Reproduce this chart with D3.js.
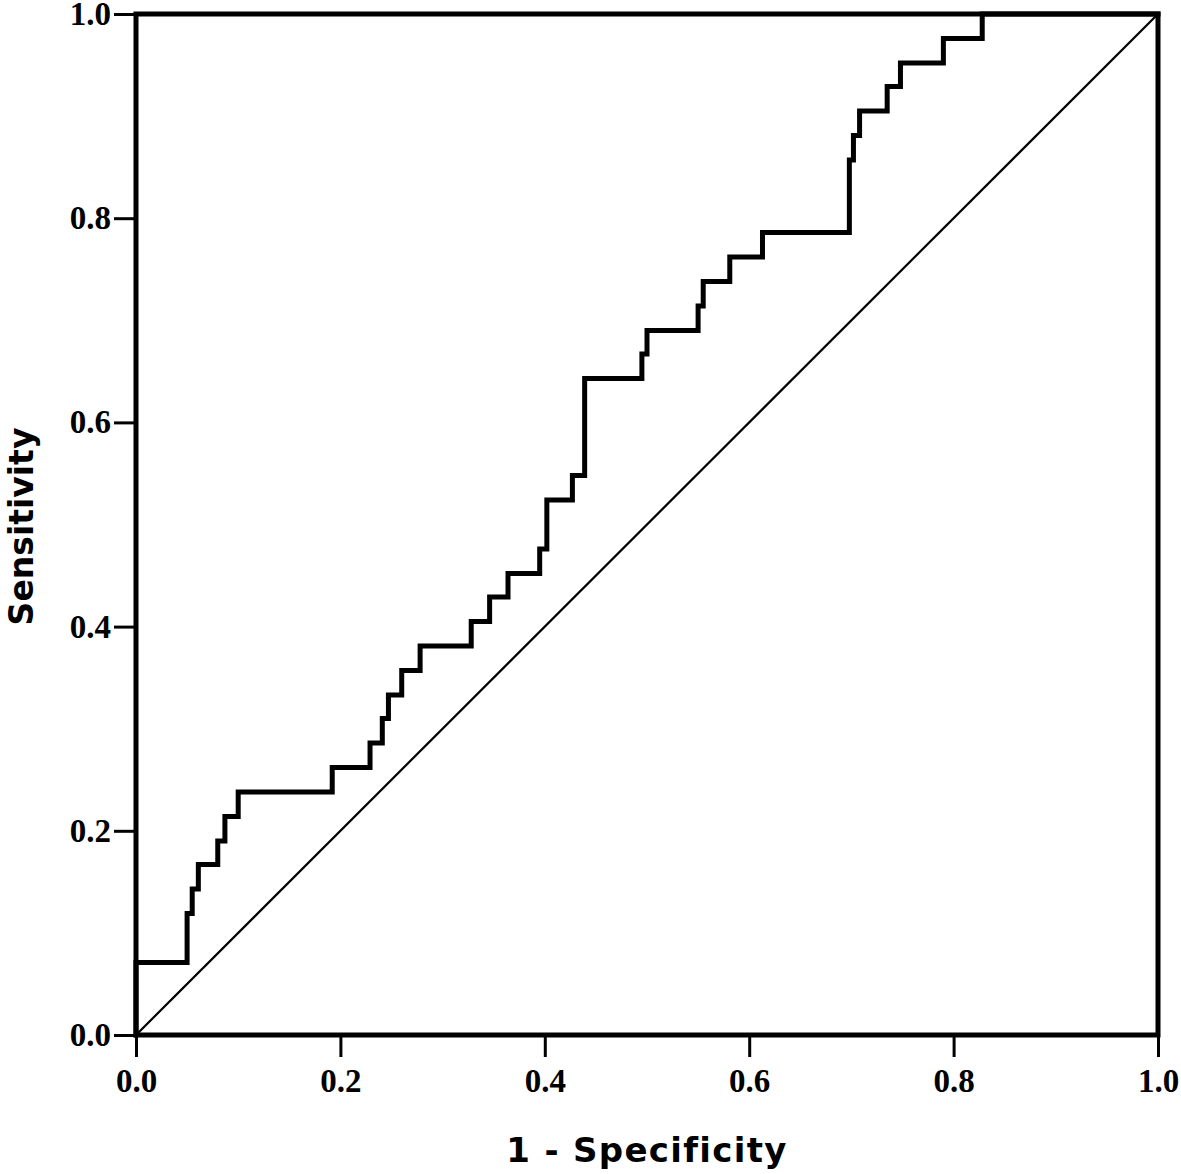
<!DOCTYPE html>
<html><head><meta charset="utf-8">
<script src="https://cdn.jsdelivr.net/npm/d3@7"></script>
<style>html,body{margin:0;padding:0;background:#fff;}</style>
</head><body>
<svg id="c" width="1181" height="1174"></svg>
<script>
// ROC curve corner points (1 - Specificity, Sensitivity)
const fpr = [0.000, 0.000, 0.050, 0.055, 0.061, 0.080, 0.087, 0.100, 0.192, 0.229, 0.241, 0.247, 0.260, 0.278,
             0.328, 0.346, 0.364, 0.395, 0.402, 0.427, 0.439, 0.495, 0.500, 0.550, 0.555, 0.581, 0.613,
             0.698, 0.702, 0.708, 0.735, 0.748, 0.790, 0.828, 1.000];
const tpr = [0.000, 0.071, 0.119, 0.143, 0.167, 0.190, 0.214, 0.238, 0.262, 0.286, 0.310, 0.333, 0.357, 0.381,
             0.405, 0.429, 0.452, 0.476, 0.524, 0.548, 0.643, 0.667, 0.690, 0.714, 0.738, 0.762, 0.786,
             0.857, 0.881, 0.905, 0.929, 0.952, 0.976, 1.000, 1.000];
const refLine = [[0, 0], [1, 1]];
const ticks = [0.0, 0.2, 0.4, 0.6, 0.8, 1.0];
const xTitle = "1 - Specificity";
const yTitle = "Sensitivity";

const svg = d3.select("#c");
const L = 136, R = 1158, T = 14, B = 1035;
const x = d3.scaleLinear().domain([0, 1]).range([L, R]);
const y = d3.scaleLinear().domain([0, 1]).range([B, T]);

const fmt = d3.format(".1f");
const tickFont = "'Liberation Serif','Times New Roman',serif";

// x axis
const xa = svg.append("g").attr("transform", `translate(0,${B})`)
  .call(d3.axisBottom(x).tickValues(ticks).tickFormat(fmt).tickSize(22).tickPadding(12));
xa.select(".domain").remove();
xa.selectAll("line").attr("stroke", "#000").attr("stroke-width", 3);
xa.selectAll("text").attr("font-family", tickFont).attr("font-weight", "bold")
  .attr("font-size", 33).attr("fill", "#000");

// y axis
const ya = svg.append("g").attr("transform", `translate(${L},0)`)
  .call(d3.axisLeft(y).tickValues(ticks).tickFormat(fmt).tickSize(22).tickPadding(3));
ya.select(".domain").remove();
ya.selectAll("line").attr("stroke", "#000").attr("stroke-width", 3);
ya.selectAll("text").attr("font-family", tickFont).attr("font-weight", "bold")
  .attr("font-size", 33).attr("fill", "#000");

// diagonal reference
svg.append("path")
  .attr("d", d3.line().x(d => x(d[0])).y(d => y(d[1]))(refLine))
  .attr("fill", "none").attr("stroke", "#000").attr("stroke-width", 2.2);

// ROC step curve
const pts = fpr.map((v, i) => [v, tpr[i]]);
svg.append("path")
  .attr("d", d3.line().x(d => x(d[0])).y(d => y(d[1])).curve(d3.curveStepAfter)(pts))
  .attr("fill", "none").attr("stroke", "#000").attr("stroke-width", 5)
  .attr("stroke-linejoin", "miter").attr("stroke-linecap", "square");

// frame
svg.append("rect").attr("x", L).attr("y", T).attr("width", R - L).attr("height", B - T)
  .attr("fill", "none").attr("stroke", "#000").attr("stroke-width", 5);

// titles
const titleFont = "'DejaVu Sans',sans-serif";
svg.append("text").attr("x", (L + R) / 2).attr("y", 1162).attr("text-anchor", "middle")
  .attr("font-family", titleFont).attr("font-weight", "bold").attr("font-size", 34)
  .attr("letter-spacing", 1.3)
  .attr("fill", "#000").text(xTitle);
svg.append("text").attr("transform", `translate(33,${(T + B) / 2 + 2}) rotate(-90)`)
  .attr("text-anchor", "middle")
  .attr("font-family", titleFont).attr("font-weight", "bold").attr("font-size", 33)
  .attr("fill", "#000").text(yTitle);
</script>
</body></html>
